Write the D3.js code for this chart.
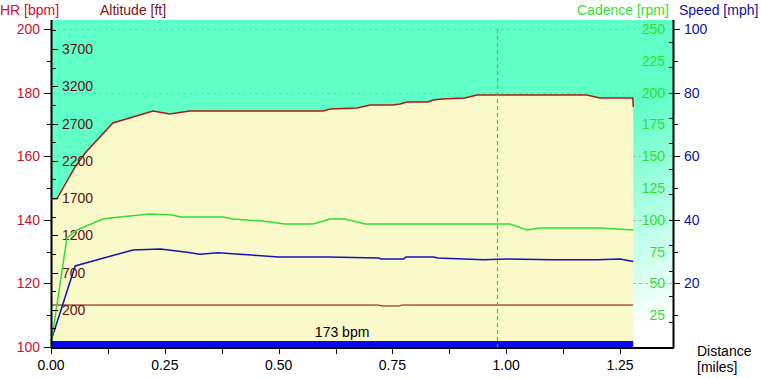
<!DOCTYPE html>
<html><head><meta charset="utf-8">
<script src="https://cdn.jsdelivr.net/npm/d3@7"></script>
<style>body{margin:0;background:#fff}svg{display:block;font-family:"Liberation Sans",Arial,sans-serif}</style>
</head><body><svg id="c" width="761" height="379"></svg>
<script>
// ---- data ----
const altDist = [0, 0.013, 0.053, 0.075, 0.136, 0.224, 0.261, 0.305, 0.598, 0.613, 0.672, 0.701, 0.751, 0.767, 0.782, 0.828, 0.839, 0.859, 0.909, 0.936, 1.177, 1.206, 1.278, 1.279];
const altFt   = [1690, 1690, 2117, 2305, 2708, 2869, 2829, 2869, 2869, 2896, 2910, 2950, 2950, 2963, 2990, 2990, 3017, 3030, 3044, 3084, 3084, 3044, 3044, 2923];
const cadDist = [0, 0.035, 0.057, 0.114, 0.130, 0.217, 0.268, 0.283, 0.378, 0.400, 0.464, 0.514, 0.576, 0.613, 0.646, 0.690, 1.008, 1.046, 1.074, 1.206, 1.279];
const cadRpm  = [1.6, 85.7, 92, 100.6, 101.4, 104.6, 103.8, 102.2, 102.2, 100.6, 99, 96.7, 96.7, 100.6, 100.6, 96.7, 96.7, 92, 93.6, 93.6, 92];
const spdDist = [0, 0.053, 0.108, 0.180, 0.240, 0.299, 0.327, 0.367, 0.440, 0.500, 0.610, 0.720, 0.725, 0.775, 0.780, 0.840, 0.850, 0.950, 1.000, 1.100, 1.200, 1.250, 1.279];
const spdMph  = [1.9, 25.5, 27.7, 30.5, 30.8, 29.8, 29.2, 29.6, 28.9, 28.3, 28.3, 28.0, 27.7, 27.7, 28.3, 28.3, 28.0, 27.4, 27.7, 27.4, 27.4, 27.7, 26.9];
const hrDist  = [0, 0.72, 0.725, 0.765, 0.77, 1.279];
const hrBpm   = [113.2, 113.2, 112.9, 112.9, 113.2, 113.2];
const xTickLabels = [0, 0.25, 0.5, 0.75, 1.0, 1.25];
const hrTicks = [100, 120, 140, 160, 180, 200];
const altTicks = [200, 700, 1200, 1700, 2200, 2700, 3200, 3700];
const cadTicks = [25, 50, 75, 100, 125, 150, 175, 200, 225, 250];
const spdTicks = [20, 40, 60, 80, 100];
const cursorDist = 0.98;
const zoneLabel = "173 bpm";

// ---- layout ----
const L = 51, R = 673, T = 20, B = 347, yTop = 29;
const svg = d3.select("#c");
const x = d3.scaleLinear().domain([0, 1.25]).range([L, 620]);
const yHR = d3.scaleLinear().domain([100, 200]).range([B, yTop]);
const yAlt = d3.scaleLinear().domain([-300, 3970]).range([B, yTop]);
const yCad = d3.scaleLinear().domain([0, 250]).range([B, yTop]);
const ySpd = d3.scaleLinear().domain([0, 100]).range([B, yTop]);
const dataEnd = d3.max(altDist);

const defs = svg.append("defs");
const g = defs.append("linearGradient").attr("id", "bg").attr("x1", 0).attr("y1", 0).attr("x2", 1).attr("y2", 1);
g.append("stop").attr("offset", 0).attr("stop-color", "#60ffc8");
g.append("stop").attr("offset", 0.6).attr("stop-color", "#60ffc8");
g.append("stop").attr("offset", 0.95).attr("stop-color", "#ffffff");
svg.append("rect").attr("x", L).attr("y", T).attr("width", R - L).attr("height", B - T).attr("fill", "url(#bg)");

// grid
svg.append("g").selectAll("line").data(hrTicks.filter(d => d > 100)).join("line")
  .attr("x1", L).attr("x2", R).attr("y1", d => Math.round(yHR(d)) + 0.5).attr("y2", d => Math.round(yHR(d)) + 0.5)
  .attr("stroke", "#b4b4b4").attr("stroke-dasharray", "3,3");

// altitude area
const altData = altDist.map((d, i) => [d, altFt[i]]);
svg.append("path").datum(altData)
  .attr("d", d3.area().x(d => x(d[0])).y0(B).y1(d => yAlt(d[1])))
  .attr("fill", "#f9f9c9");
svg.append("path").datum(altData)
  .attr("d", d3.line().x(d => x(d[0])).y(d => yAlt(d[1])))
  .attr("fill", "none").attr("stroke", "#b01818").attr("stroke-width", 1.5);

// altitude tick labels
svg.append("g").selectAll("text").data(altTicks).join("text")
  .attr("x", 62).attr("y", d => yAlt(d) + 5).attr("font-size", 14).attr("fill", "#5a1414").text(d => d);

// cadence labels
svg.append("g").selectAll("text").data(cadTicks).join("text")
  .attr("x", 665).attr("y", d => yCad(d) + 5).attr("font-size", 14).attr("fill", "#33dd33").attr("text-anchor", "end").text(d => d);

// zone bar
svg.append("rect").attr("x", L).attr("y", B - 6).attr("width", x(dataEnd) - L).attr("height", 6).attr("fill", "#0808f0");
svg.append("text").attr("x", (L + x(dataEnd)) / 2).attr("y", 337).attr("text-anchor", "middle")
  .attr("font-size", 14).attr("fill", "#000").text(zoneLabel);

// series lines
function line(dist, vals, ys, color, w) {
  svg.append("path").datum(dist.map((d, i) => [d, vals[i]]))
    .attr("d", d3.line().x(d => x(d[0])).y(d => ys(d[1])))
    .attr("fill", "none").attr("stroke", color).attr("stroke-width", w);
}
line(hrDist, hrBpm, yHR, "#800000", 1);
line(spdDist, spdMph, ySpd, "#1414b4", 1.5);
line(cadDist, cadRpm, yCad, "#33dd33", 1.5);

// cursor
svg.append("line").attr("x1", Math.round(x(cursorDist)) + 0.5).attr("x2", Math.round(x(cursorDist)) + 0.5)
  .attr("y1", yTop).attr("y2", B).attr("stroke", "#22dd22").attr("stroke-width", 1.2).attr("stroke-dasharray", "4,3");

// axes lines
const ax = svg.append("g").attr("stroke", "#000");
ax.append("line").attr("x1", L + 0.5).attr("x2", L + 0.5).attr("y1", T).attr("y2", B + 1).attr("stroke-width", 2);
ax.append("line").attr("x1", R + 0.5).attr("x2", R + 0.5).attr("y1", T).attr("y2", B + 1).attr("stroke-width", 2);
ax.append("line").attr("x1", L).attr("x2", R + 1).attr("y1", B + 1).attr("y2", B + 1).attr("stroke-width", 2);

// left axis: HR (left side ticks)
svg.append("g").selectAll("line").data(d3.range(100, 201, 10)).join("line")
  .attr("x1", d => d % 20 === 0 ? L - 7 : L - 4).attr("x2", L)
  .attr("y1", d => Math.round(yHR(d)) + 0.5).attr("y2", d => Math.round(yHR(d)) + 0.5).attr("stroke", "#000");
svg.append("g").selectAll("text").data(hrTicks).join("text")
  .attr("x", 40).attr("y", d => yHR(d) + 5).attr("text-anchor", "end").attr("font-size", 14).attr("fill", "#cc1030").text(d => d);
// altitude ticks (right side of left axis)
svg.append("g").selectAll("line").data(d3.range(-50, 3951, 250)).join("line")
  .attr("x1", L + 1).attr("x2", d => (d - 200) % 500 === 0 ? L + 7 : L + 5)
  .attr("y1", d => Math.round(yAlt(d)) + 0.5).attr("y2", d => Math.round(yAlt(d)) + 0.5).attr("stroke", "#000");

// right axis: speed ticks (right side), cadence (left side)
svg.append("g").selectAll("line").data(d3.range(10, 101, 10)).join("line")
  .attr("x1", R).attr("x2", d => d % 20 === 0 ? R + 7 : R + 5)
  .attr("y1", d => Math.round(ySpd(d)) + 0.5).attr("y2", d => Math.round(ySpd(d)) + 0.5).attr("stroke", "#000");
svg.append("g").selectAll("line").data(d3.range(20, 251, 20)).join("line")
  .attr("x1", R - 4).attr("x2", R)
  .attr("y1", d => Math.round(yCad(d)) + 0.5).attr("y2", d => Math.round(yCad(d)) + 0.5).attr("stroke", "#000");
svg.append("g").selectAll("text").data(spdTicks).join("text")
  .attr("x", 684).attr("y", d => ySpd(d) + 5).attr("font-size", 14).attr("fill", "#1010a0").text(d => d);

// x axis
svg.append("g").selectAll("line").data(d3.range(0, 1.26, 0.125)).join("line")
  .attr("x1", d => Math.round(x(d)) + 0.5).attr("x2", d => Math.round(x(d)) + 0.5)
  .attr("y1", B + 1).attr("y2", B + 7).attr("stroke", "#000");
svg.append("g").selectAll("text").data(xTickLabels).join("text")
  .attr("x", d => x(d)).attr("y", 370).attr("text-anchor", "middle").attr("font-size", 14).attr("fill", "#000")
  .text(d => d3.format(".2f")(d));

// titles
const tt = svg.append("g").attr("font-size", 14);
tt.append("text").attr("x", 0).attr("y", 15).attr("fill", "#cc1030").text("HR [bpm]");
tt.append("text").attr("x", 100).attr("y", 15).attr("fill", "#801010").text("Altitude [ft]");
tt.append("text").attr("x", 577).attr("y", 15).attr("fill", "#33dd33").text("Cadence [rpm]");
tt.append("text").attr("x", 679).attr("y", 15).attr("fill", "#1010a0").text("Speed [mph]");
tt.append("text").attr("x", 697).attr("y", 356).attr("fill", "#000").text("Distance");
tt.append("text").attr("x", 697).attr("y", 372).attr("fill", "#000").text("[miles]");
</script></body></html>
